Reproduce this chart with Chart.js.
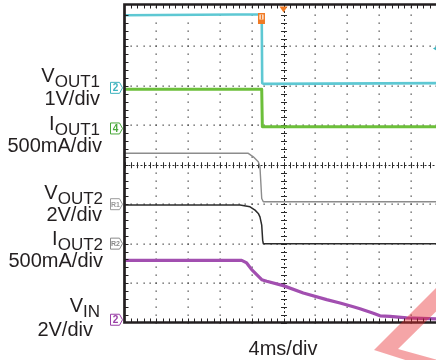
<!DOCTYPE html>
<html>
<head>
<meta charset="utf-8">
<script src="https://cdn.jsdelivr.net/npm/chart.js@4.4.1/dist/chart.umd.min.js"></script>
<style>
  html, body { margin: 0; padding: 0; background: #fff; overflow: hidden; }
  #wrap { position: relative; width: 436px; height: 360px; overflow: hidden; }
  #scope { position: absolute; left: 0; top: 0; }
  .lbl {
    position: absolute; white-space: nowrap; text-align: right;
    font-family: "Liberation Sans", Arial, Helvetica, sans-serif;
    font-size: 20px; line-height: 20px; color: #231f20;
  }
  .lbl sub { font-size: 17px; vertical-align: baseline; position: relative; top: 5px; }
</style>
</head>
<body>
<div id="wrap">
  <canvas id="scope" width="450" height="360"></canvas>
  <div class="lbl" style="right:336px; top:65px">V<sub>OUT1</sub></div>
  <div class="lbl" style="right:336px; top:88px">1V/div</div>
  <div class="lbl" style="right:336px; top:113px">I<sub>OUT1</sub></div>
  <div class="lbl" style="right:334px; top:134.5px">500mA/div</div>
  <div class="lbl" style="right:333px; top:182px">V<sub>OUT2</sub></div>
  <div class="lbl" style="right:334px; top:203.5px">2V/div</div>
  <div class="lbl" style="right:333px; top:228px">I<sub>OUT2</sub></div>
  <div class="lbl" style="right:333px; top:249.5px">500mA/div</div>
  <div class="lbl" style="right:336px; top:295px">V<sub>IN</sub></div>
  <div class="lbl" style="right:343px; top:319px">2V/div</div>
  <div class="lbl" style="left:0; width:566px; text-align:center; top:338px">4ms/div</div>
</div>
<script>
// Time base: 4 ms per division, trigger at t = 0
const timeMin = -20, timeMax = 20, msPerDiv = 4;
const divMin = -4, divMax = 4;

// VOUT1 (V), 1 V/div
const vout1Time = [-20, -6, -2.74, -2.68, -2.5, 20];
const vout1Volts = [1.84, 1.86, 1.86, 0.12, 0.10, 0.12];

// IOUT1 (mA), 500 mA/div
const iout1Time = [-20, -2.74, -2.66, 20];
const iout1mA = [498, 498, 23, 23];

// VOUT2 (V), 2 V/div
const vout2Time = [-20, -4.43, -3.8, -3.17, -2.96, -2.74, -2.54, 20];
const vout2Volts = [2.58, 2.58, 2.40, 2.15, 1.89, 0.29, 0.12, 0.12];

// IOUT2 (mA), 500 mA/div
const iout2Time = [-20, -5.47, -4.21, -3.58, -3.17, -2.96, -2.74, -2.62, -2.54, 20];
const iout2mA = [489, 489, 467, 425, 383, 340, 235, 44, 0, 0];

// VIN (V), 2 V/div
const vinTime = [-20, -5.26, -4.63, -4.0, -3.37, -2.74, -2.11, -0.03, 2.49, 5.43, 7.11, 8.78, 9.62, 11.3, 12.14, 13.4, 15.5, 19.18, 20];
const vinVolts = [3.01, 3.01, 2.88, 2.54, 2.29, 2.03, 1.95, 1.73, 1.36, 1.02, 0.85, 0.66, 0.56, 0.33, 0.2, 0.17, 0.09, 0.04, 0.04];

// Channel setup: units per division and ground-reference position (divisions from centre)
const channels = [
  { name: 'VOUT1', tag: '2',  time: vout1Time, vals: vout1Volts, perDiv: 1,   ref: 1.95,  color: '#5ec8d3', width: 2.6 },
  { name: 'IOUT1', tag: '4',  time: iout1Time, vals: iout1mA,    perDiv: 500, ref: 0.92,  color: '#6cbf3a', width: 3 },
  { name: 'VOUT2', tag: 'R1', time: vout2Time, vals: vout2Volts, perDiv: 2,   ref: -1.0,  color: '#8c8c8c', width: 1.4 },
  { name: 'IOUT2', tag: 'R2', time: iout2Time, vals: iout2mA,    perDiv: 500, ref: -2.0,  color: '#2b2b2b', width: 1.5 },
  { name: 'VIN',   tag: '2',  time: vinTime,   vals: vinVolts,   perDiv: 2,   ref: -3.93, color: '#a24fb0', width: 3.2 }
];
const markerColors = ['#3fb3bf', '#4aa83a', '#9a9a9a', '#8a8a8a', '#9a3fa6'];

// Trigger settings
const triggerLevelVolts = 1.0;   // on VOUT1
const channelMarkTime = -2.77;

const datasets = channels.map(ch => ({
  label: ch.name,
  data: ch.time.map((t, i) => ({ x: t, y: ch.vals[i] / ch.perDiv + ch.ref })),
  borderColor: ch.color,
  borderWidth: ch.width,
  pointRadius: 0,
  tension: 0,
  fill: false
}));

const graticule = {
  id: 'graticule',
  beforeDatasetsDraw(chart) {
    const { ctx, chartArea: a, scales: { x, y } } = chart;
    ctx.save();
    ctx.fillStyle = '#4a4a4a';
    // dotted division lines
    for (let k = 1; k < 10; k++) {
      if (k === 5) continue;
      const px = x.getPixelForValue(timeMin + k * msPerDiv);
      for (let m = 0; m <= 40; m++) {
        const py = y.getPixelForValue(divMin + m * 0.2);
        ctx.fillRect(Math.round(px) - 0.5, Math.round(py) - 0.5, 1.3, 1.3);
      }
    }
    for (let k = 1; k < 8; k++) {
      if (k === 4) continue;
      const py = y.getPixelForValue(divMin + k);
      for (let m = 0; m <= 50; m++) {
        const px = x.getPixelForValue(timeMin + m * msPerDiv / 5);
        ctx.fillRect(Math.round(px) - 0.5, Math.round(py) - 0.5, 1.3, 1.3);
      }
    }
    // centre axes with minor ticks
    const cx = x.getPixelForValue(0), cy = y.getPixelForValue(0);
    ctx.strokeStyle = '#2a2a2a';
    ctx.lineWidth = 1;
    ctx.setLineDash([2, 2]);
    ctx.beginPath();
    ctx.moveTo(Math.round(cx) + 0.5, a.top); ctx.lineTo(Math.round(cx) + 0.5, a.bottom);
    ctx.moveTo(a.left, Math.round(cy) + 0.5); ctx.lineTo(a.right, Math.round(cy) + 0.5);
    ctx.stroke();
    ctx.setLineDash([]);
    ctx.beginPath();
    for (let m = 0; m <= 40; m++) {
      const py = Math.round(y.getPixelForValue(divMin + m * 0.2)) + 0.5;
      ctx.moveTo(cx - 2.5, py); ctx.lineTo(cx + 3.5, py);
    }
    for (let m = 0; m <= 50; m++) {
      const px = Math.round(x.getPixelForValue(timeMin + m * msPerDiv / 5)) + 0.5;
      ctx.moveTo(px, cy - 2.5); ctx.lineTo(px, cy + 3.5);
    }
    ctx.stroke();
    ctx.restore();
  },
  afterDatasetsDraw(chart) {
    const { ctx, chartArea: a, scales: { x, y } } = chart;
    ctx.save();
    // frame
    const top = a.top - 2.5;
    ctx.strokeStyle = '#231f20';
    ctx.lineWidth = 2.7;
    ctx.beginPath();
    ctx.moveTo(a.right + 2, top); ctx.lineTo(a.left, top);
    ctx.lineTo(a.left, a.bottom); ctx.lineTo(a.right + 2, a.bottom);
    ctx.stroke();
    // frame minor ticks
    ctx.lineWidth = 1;
    ctx.beginPath();
    for (let m = 1; m < 40; m++) {
      const py = Math.round(y.getPixelForValue(divMin + m * 0.2)) + 0.5;
      ctx.moveTo(a.left, py); ctx.lineTo(a.left + 4, py);
    }
    for (let m = 1; m < 50; m++) {
      const px = Math.round(x.getPixelForValue(timeMin + m * msPerDiv / 5)) + 0.5;
      ctx.moveTo(px, top); ctx.lineTo(px, top + 4);
      ctx.moveTo(px, a.bottom); ctx.lineTo(px, a.bottom - 4);
    }
    ctx.stroke();

    // channel ground markers on the left edge
    channels.forEach((ch, i) => {
      const py = y.getPixelForValue(ch.ref);
      const x0 = a.left - 14, w = 9, h = 5.5;
      ctx.fillStyle = '#fff';
      ctx.strokeStyle = markerColors[i];
      ctx.lineWidth = 1;
      ctx.beginPath();
      ctx.moveTo(x0, py - h); ctx.lineTo(x0 + w, py - h); ctx.lineTo(x0 + w + 3, py);
      ctx.lineTo(x0 + w, py + h); ctx.lineTo(x0, py + h); ctx.closePath();
      ctx.fill(); ctx.stroke();
      ctx.fillStyle = markerColors[i];
      ctx.font = (ch.tag.length > 1 ? 'bold 7px' : 'bold 10px') + ' "Liberation Sans", Arial, sans-serif';
      ctx.textAlign = 'center';
      ctx.textBaseline = 'middle';
      ctx.fillText(ch.tag, x0 + w / 2 + 0.5, py + 0.5);
    });

    // trigger position (top) and channel marker
    const tx = x.getPixelForValue(0);
    ctx.fillStyle = '#f07a24';
    ctx.beginPath();
    ctx.moveTo(tx - 4, top + 2); ctx.lineTo(tx + 4, top + 2); ctx.lineTo(tx, top + 8);
    ctx.closePath(); ctx.fill();
    const mx = x.getPixelForValue(channelMarkTime);
    ctx.fillRect(mx - 3.5, 13, 7, 11);
    ctx.fillStyle = '#fff';
    ctx.fillRect(mx - 2, 14.5, 4, 5);
    ctx.fillStyle = '#f07a24';
    ctx.fillRect(mx - 0.8, 14.5, 1.6, 5);

    // trigger level pointer (VOUT1)
    const ly = y.getPixelForValue(triggerLevelVolts / channels[0].perDiv + channels[0].ref);
    ctx.fillStyle = '#3fb3bf';
    ctx.beginPath();
    ctx.moveTo(433, ly); ctx.lineTo(438, ly - 3); ctx.lineTo(438, ly + 3);
    ctx.closePath(); ctx.fill();
    ctx.restore();
  },
  afterDraw(chart) {
    // corner logo mark
    const ctx = chart.ctx;
    ctx.save();
    ctx.fillStyle = 'rgba(230, 40, 45, 0.42)';
    ctx.beginPath();
    ctx.moveTo(374, 350);
    ctx.lineTo(442, 282);
    ctx.lineTo(466, 282);
    ctx.lineTo(398, 349);
    ctx.lineTo(445, 362);
    ctx.lineTo(418, 364);
    ctx.closePath();
    ctx.fill();
    ctx.restore();
  }
};

new Chart(document.getElementById('scope'), {
  type: 'line',
  data: { datasets },
  options: {
    responsive: false,
    animation: false,
    devicePixelRatio: 1,
    layout: { padding: { left: 124.5, right: 7.5, top: 7, bottom: 37.5 } },
    plugins: { legend: { display: false }, tooltip: { enabled: false } },
    elements: { line: { borderJoinStyle: 'round', borderCapStyle: 'butt' } },
    scales: {
      x: { type: 'linear', min: timeMin, max: timeMax, display: false },
      y: { type: 'linear', min: divMin, max: divMax, display: false }
    }
  },
  plugins: [graticule]
});
</script>
</body>
</html>
